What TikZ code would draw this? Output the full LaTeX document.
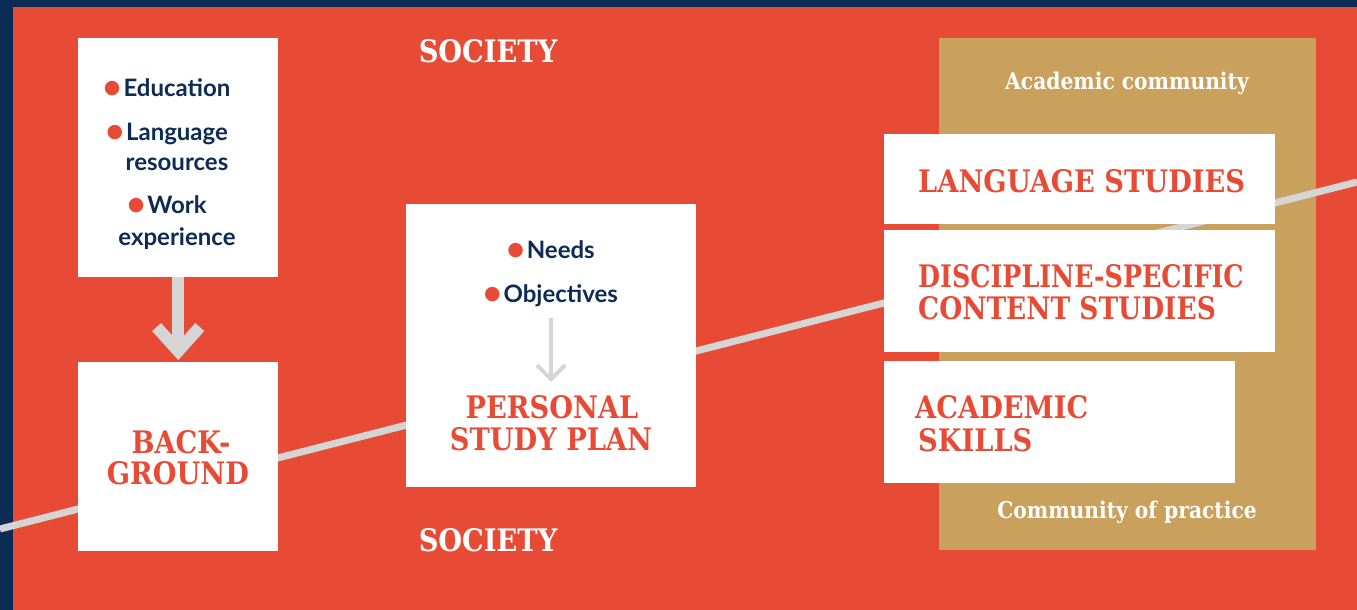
\documentclass[tikz,border=0pt]{standalone}
\usepackage{fontspec}
\usepackage{xcolor}
\usetikzlibrary{arrows.meta}

\newfontfamily\lato{Lato}
\newfontfamily\slab[FakeStretch=0.88]{DejaVu Serif}
\newfontfamily\dotfont{DejaVu Sans}

\definecolor{navyedge}{HTML}{0C2C57}
\definecolor{redbg}{HTML}{E84B35}
\definecolor{goldbg}{HTML}{C9A15C}
\definecolor{pathgray}{HTML}{D5D5D5}
\definecolor{navytext}{HTML}{0E2B55}

\newcommand{\itemdot}{\raisebox{2.5pt}{\color{redbg}\dotfont\fontsize{19}{19}\selectfont ●}\kern3pt}

\tikzset{
  whitebox/.style={fill=white,inner sep=0pt,anchor=north west},
  listline/.style={anchor=base,inner sep=0pt,text=navytext,font=\lato\bfseries\fontsize{24}{24}\selectfont},
  titleline/.style={anchor=base,inner sep=0pt,text=redbg,font=\slab\bfseries\fontsize{31}{31}\selectfont},
  goldline/.style={anchor=base,inner sep=0pt,text=white,font=\slab\bfseries\fontsize{23}{23}\selectfont}
}

\begin{document}
\begin{tikzpicture}[x=1pt,y=-1pt]
\fill[navyedge] (0,0) rectangle (1357,610);
\fill[redbg] (13,7) rectangle (1357,610);
\useasboundingbox (0,0) rectangle (1357,610);
\fill[goldbg] (939,38) rectangle (1316,550);

\coordinate (pathstart) at (0,529);
\coordinate (pathend) at (1357,182);
\draw[pathgray,line width=7pt] (pathstart) -- (pathend);

\node[whitebox,minimum width=200pt,minimum height=239pt] (resources) at (78,38) {};
\node[whitebox,minimum width=200pt,minimum height=189pt] (background) at (78,362) {};
\node[whitebox,minimum width=290pt,minimum height=283pt] (plan) at (406,204) {};
\node[whitebox,minimum width=391pt,minimum height=90pt] (langbox) at (884,134) {};
\node[whitebox,minimum width=391pt,minimum height=122pt] (discbox) at (884,230) {};
\node[whitebox,minimum width=351pt,minimum height=122pt] (skillbox) at (884,361) {};

\draw[pathgray,line width=12pt,-{Straight Barb[length=0pt 2,width=0pt 3.6]},shorten >=2pt] (resources.south) -- (background.north);

\node[titleline,text=white] (societytop) at (488,63) {SOCIETY};
\node[titleline,text=white] (societybottom) at (488,551) {SOCIETY};

\node[listline] (education) at (177,96) {\llap{\itemdot}Education};
\node[listline] (language) at (177,140) {\llap{\itemdot}Language};
\node[listline] (resourceword) at (177,170) {resources};
\node[listline] (work) at (177,213) {\llap{\itemdot}Work};
\node[listline] (experience) at (177,245) {experience};

\node[titleline] (back) at (181,453) {BACK-};
\node[titleline] (ground) at (178,484) {GROUND};

\node[listline] (needs) at (551,258) {\itemdot Needs};
\node[listline] (objectives) at (551,302) {\itemdot Objectives};
\coordinate (planarrowtop) at (551,318);
\coordinate (planarrowtip) at (551,382);
\draw[pathgray,line width=4pt,-{Straight Barb[length=0pt 3.5,width=0pt 7]}] (planarrowtop) -- (planarrowtip);
\node[titleline] (personal) at (552,418) {PERSONAL};
\node[titleline] (studyplan) at (551,450) {STUDY PLAN};

\node[goldline] (acadcommunity) at (1127,89) {Academic community};
\node[goldline] (practice) at (1127,518) {Community of practice};

\node[titleline,anchor=base west] (langstudies) at (918,192) {LANGUAGE STUDIES};
\node[titleline,anchor=base west,xscale=0.93,transform shape] (discipline) at (918,287) {DISCIPLINE-SPECIFIC};
\node[titleline,anchor=base west,xscale=0.97,transform shape] (content) at (918,319) {CONTENT STUDIES};
\node[titleline,anchor=base west] (academic) at (915,418) {ACADEMIC};
\node[titleline,anchor=base west] (skills) at (918,451) {SKILLS};
\end{tikzpicture}
\end{document}
